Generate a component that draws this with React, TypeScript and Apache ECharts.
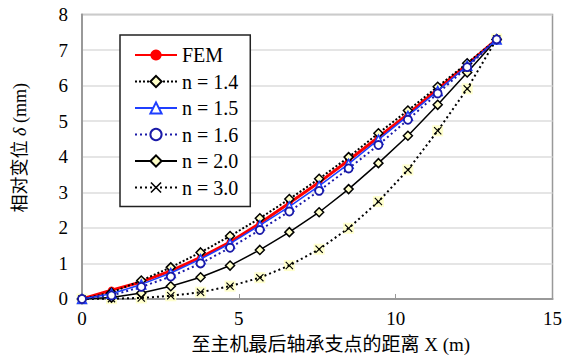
import React, { useEffect, useRef } from "react";
import * as echarts from "echarts";

const xValues = [0, 0.94, 1.89, 2.83, 3.78, 4.72, 5.67, 6.61, 7.56, 8.5, 9.45, 10.39, 11.34, 12.28, 13.22];
const femValues = [0, 0.25, 0.48, 0.79, 1.17, 1.6, 2.13, 2.7, 3.28, 3.9, 4.55, 5.2, 5.9, 6.6, 7.3];
const n14Values = [0, 0.18, 0.52, 0.89, 1.31, 1.77, 2.27, 2.81, 3.38, 3.99, 4.66, 5.3, 5.97, 6.63, 7.3];
const n15Values = [0, 0.15, 0.41, 0.73, 1.12, 1.56, 2.07, 2.6, 3.18, 3.8, 4.48, 5.15, 5.85, 6.56, 7.3];
const n16Values = [0, 0.1, 0.34, 0.63, 1.0, 1.44, 1.94, 2.46, 3.04, 3.67, 4.33, 5.04, 5.78, 6.52, 7.3];
const n20Values = [0, 0.04, 0.17, 0.36, 0.61, 0.94, 1.38, 1.88, 2.44, 3.09, 3.82, 4.59, 5.46, 6.37, 7.3];
const n30Values = [0, 0.01, 0.03, 0.09, 0.19, 0.36, 0.6, 0.94, 1.4, 1.99, 2.74, 3.63, 4.73, 5.91, 7.31];

const seriesNames = ["FEM", "n = 1.4", "n = 1.5", "n = 1.6", "n = 2.0", "n = 3.0"];
const xTitle = "至主机最后轴承支点的距离 X (m)";
const yTitle = "相对变位 {i|δ} (mm)";

const pts = (ys: number[]) => xValues.map((x, i) => [x, ys[i]]);

const serif = "'Liberation Serif', 'Times New Roman', 'Noto Sans CJK SC', serif";
const X_PATH = "path://M1,0 L5,4 L9,0 L10,1 L6,5 L10,9 L9,10 L5,6 L1,10 L0,9 L4,5 L0,1 Z";

export default function App() {
  const ref = useRef<HTMLDivElement>(null);
  useEffect(() => {
    if (!ref.current) return;
    const chart = echarts.init(ref.current, undefined, { renderer: "svg" });
    const yellow = "#ffffc8";
    chart.setOption({
      animation: false,
      backgroundColor: "#fff",
      grid: {
        left: 82,
        top: 14.5,
        right: 4,
        bottom: 60,
        show: true,
        borderColor: "#999",
        borderWidth: 1.5,
        containLabel: false,
      },
      legend: {
        data: seriesNames,
        orient: "vertical",
        left: 120,
        top: 35,
        padding: [10, 12, 9, 14],
        itemGap: 6.5,
        itemWidth: 42,
        itemHeight: 14,
        borderColor: "#222",
        borderWidth: 1.5,
        backgroundColor: "#fff",
        textStyle: { fontFamily: serif, fontSize: 20, color: "#000", lineHeight: 20 },
      },
      xAxis: {
        type: "value",
        min: 0,
        max: 15,
        interval: 5,
        name: xTitle,
        nameLocation: "middle",
        nameGap: 36,
        nameTextStyle: { fontFamily: serif, fontSize: 19, color: "#000", padding: [0, 0, 0, 27] },
        axisLine: { show: true, lineStyle: { color: "#999", width: 2 } },
        axisTick: { show: true, inside: true, length: 5, lineStyle: { color: "#999" } },
        axisLabel: { fontFamily: serif, fontSize: 19, color: "#000", margin: 10 },
        splitLine: { show: false },
      },
      yAxis: {
        type: "value",
        min: 0,
        max: 8,
        interval: 1,
        name: yTitle,
        nameLocation: "middle",
        nameGap: 53,
        nameTextStyle: {
          fontFamily: serif,
          fontSize: 18,
          color: "#000",
          padding: [0, 0, 0, 18],
          rich: { i: { fontFamily: serif, fontSize: 18, fontStyle: "italic", color: "#000" } },
        },
        axisLine: { show: true, lineStyle: { color: "#999", width: 2 } },
        axisTick: { show: false },
        axisLabel: { fontFamily: serif, fontSize: 19, color: "#000", margin: 14 },
        splitLine: { show: true, lineStyle: { color: "#ddd", width: 1.5 } },
      },
      series: [
        {
          name: "n = 3.0 bg",
          type: "scatter",
          data: pts(n30Values),
          symbol: "rect",
          symbolSize: 11,
          itemStyle: { color: yellow, opacity: 0.9 },
          silent: true,
          clip: false,
          z: 1,
        },
        {
          name: "FEM",
          type: "line",
          data: pts(femValues),
          symbol: "circle",
          symbolSize: 7,
          itemStyle: { color: "#ff0000" },
          lineStyle: { color: "#ff0000", width: 3 },
          clip: false,
          z: 2,
        },
        {
          name: "n = 1.4",
          type: "line",
          data: pts(n14Values),
          symbol: "diamond",
          symbolSize: 9,
          itemStyle: { color: yellow, borderColor: "#000", borderWidth: 1.5 },
          lineStyle: { color: "#000", width: 2, type: [2, 2] },
          clip: false,
          z: 3,
        },
        {
          name: "n = 1.5",
          type: "line",
          data: pts(n15Values),
          symbol: "triangle",
          symbolSize: 9,
          itemStyle: { color: "#fff", borderColor: "#1f3fff", borderWidth: 1.5 },
          lineStyle: { color: "#1f3fff", width: 1.5 },
          clip: false,
          z: 4,
        },
        {
          name: "n = 1.6",
          type: "line",
          data: pts(n16Values),
          symbol: "circle",
          symbolSize: 8,
          itemStyle: { color: "#fff", borderColor: "#1a1aa8", borderWidth: 1.8 },
          lineStyle: { color: "#1a1aa8", width: 2, type: [2, 3] },
          clip: false,
          z: 4,
        },
        {
          name: "n = 2.0",
          type: "line",
          data: pts(n20Values),
          symbol: "diamond",
          symbolSize: 9,
          itemStyle: { color: yellow, borderColor: "#000", borderWidth: 1.5 },
          lineStyle: { color: "#000", width: 1.5 },
          clip: false,
          z: 3,
        },
        {
          name: "n = 3.0",
          type: "line",
          data: pts(n30Values),
          symbol: X_PATH,
          symbolSize: 8,
          itemStyle: { color: "#000" },
          lineStyle: { color: "#000", width: 2, type: [2, 3] },
          clip: false,
          z: 3,
        },
      ],
    });
    return () => chart.dispose();
  }, []);
  return (
    <div
      ref={ref}
      style={{ position: "fixed", left: 0, top: 0, width: 565, height: 359 }}
    />
  );
}
